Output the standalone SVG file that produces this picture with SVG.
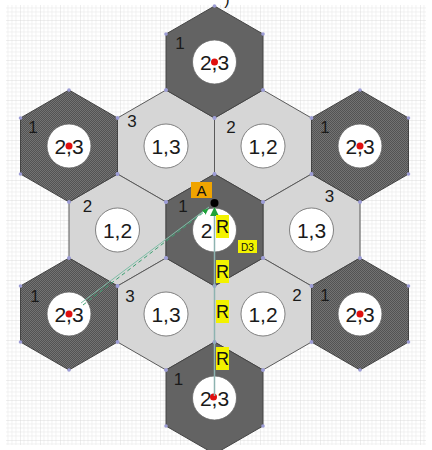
<svg xmlns="http://www.w3.org/2000/svg" width="432" height="450" viewBox="0 0 432 450">
<style>
.num{font-family:"Liberation Sans",Arial,sans-serif;font-size:17px;fill:#1a1a1a;text-anchor:middle}
.ct{font-family:"Liberation Sans",Arial,sans-serif;font-size:21px;fill:#1a1a1a;text-anchor:middle}
.lbl{font-family:"Liberation Sans",Arial,sans-serif;fill:#111;text-anchor:middle}
.dark{fill:url(#hatch);stroke:#444;stroke-width:1}
.light{fill:#d6d6d6;stroke:#5a5a5a;stroke-width:1}
.circ{fill:#fff;stroke:#666;stroke-width:0.8}
.red{fill:#e01010}
.vd{fill:#9d9dd6}
.ybox{fill:#f2f200}
</style>
<defs>
<pattern id="grid" width="20" height="20" patternUnits="userSpaceOnUse">
<rect width="20" height="20" fill="#fff"/>
<path d="M4 0V20M8 0V20M12 0V20M16 0V20M0 4H20M0 8H20M0 12H20M0 16H20" stroke="#ececec" stroke-width="0.7"/>
<path d="M0 0V20M0 0H20" stroke="#d6d6d6" stroke-width="0.8"/>
</pattern>
<pattern id="hatch" width="2" height="2" patternUnits="userSpaceOnUse">
<rect width="2" height="2" fill="#737373"/>
<rect width="1" height="1" fill="#535353"/>
<rect x="1" y="1" width="1" height="1" fill="#535353"/>
</pattern>
<polygon id="hex" points="0,-56 48.5,-28 48.5,28 0,56 -48.5,28 -48.5,-28"/>
<g id="vdots">
<circle cx="0" cy="-56" r="1.8"/><circle cx="48.5" cy="-28" r="1.8"/><circle cx="48.5" cy="28" r="1.8"/>
<circle cx="0" cy="56" r="1.8"/><circle cx="-48.5" cy="28" r="1.8"/><circle cx="-48.5" cy="-28" r="1.8"/>
</g>
<marker id="ga" viewBox="0 0 10 10" refX="9" refY="5" markerWidth="6" markerHeight="6" orient="auto">
<path d="M0,0 L10,5 L0,10 z" fill="#1fa23a"/>
</marker>
</defs>
<rect x="6" y="5" width="420" height="440" fill="url(#grid)"/>
<text class="lbl" x="227" y="5" font-size="16">)</text>

<!-- light hexes -->
<g id="L1" transform="translate(166,146)"><use href="#hex" class="light"/><circle class="circ" r="22"/><text class="ct" y="7.5">1,3</text><text class="num" x="-34" y="-19">3</text></g>
<g id="L2" transform="translate(263,146)"><use href="#hex" class="light"/><circle class="circ" r="22"/><text class="ct" y="7.5">1,2</text><text class="num" x="-32" y="-13">2</text></g>
<g id="L3" transform="translate(117.5,230)"><use href="#hex" class="light"/><circle class="circ" r="22"/><text class="ct" y="7.5">1,2</text><text class="num" x="-30" y="-18">2</text></g>
<g id="L4" transform="translate(311.5,230)"><use href="#hex" class="light"/><circle class="circ" r="22"/><text class="ct" y="7.5">1,3</text><text class="num" x="18" y="-28">3</text></g>
<g id="L5" transform="translate(166,314)"><use href="#hex" class="light"/><circle class="circ" r="22"/><text class="ct" y="7.5">1,3</text><text class="num" x="-36" y="-12">3</text></g>
<g id="L6" transform="translate(263,314)"><use href="#hex" class="light"/><circle class="circ" r="22"/><text class="ct" y="7.5">1,2</text><text class="num" x="34" y="-13">2</text></g>

<!-- dark hexes -->
<g id="D1" transform="translate(214.5,62)"><use href="#hex" class="dark"/><circle class="circ" r="22"/><text class="ct" y="7.5">2,3</text><circle class="red" r="3.5"/><text class="num" x="-34.5" y="-13">1</text></g>
<g id="D2" transform="translate(69,146)"><use href="#hex" class="dark"/><circle class="circ" r="22"/><text class="ct" y="7.5">2,3</text><circle class="red" r="3.5"/><text class="num" x="-36" y="-13">1</text></g>
<g id="D3" transform="translate(360,146)"><use href="#hex" class="dark"/><circle class="circ" r="22"/><text class="ct" y="7.5">2,3</text><circle class="red" r="3.5"/><text class="num" x="-35" y="-13">1</text></g>
<g id="D4" transform="translate(214.5,230)"><use href="#hex" class="dark"/><circle class="circ" r="22"/><text class="ct" x="-8" y="7.5">2</text><text class="num" x="-31.5" y="-18">1</text></g>
<g id="D5" transform="translate(69,314)"><use href="#hex" class="dark"/><circle class="circ" r="22"/><text class="ct" y="7.5">2,3</text><circle class="red" r="3.5"/><text class="num" x="-34" y="-12">1</text></g>
<g id="D6" transform="translate(360,314)"><use href="#hex" class="dark"/><circle class="circ" r="22"/><text class="ct" y="7.5">2,3</text><circle class="red" r="3.5"/><text class="num" x="-35" y="-13">1</text></g>
<g id="D7" transform="translate(214.5,398)"><use href="#hex" class="dark"/><circle class="circ" r="22"/><text class="ct" y="7.5">2,3</text><circle class="red" cx="-1" cy="-1" r="3.5"/><text class="num" x="-36" y="-13">1</text></g>

<!-- vertex dots -->
<g class="vd">
<use href="#vdots" transform="translate(166,146)"/><use href="#vdots" transform="translate(263,146)"/>
<use href="#vdots" transform="translate(117.5,230)"/><use href="#vdots" transform="translate(311.5,230)"/>
<use href="#vdots" transform="translate(166,314)"/><use href="#vdots" transform="translate(263,314)"/>
<use href="#vdots" transform="translate(214.5,62)"/><use href="#vdots" transform="translate(69,146)"/>
<use href="#vdots" transform="translate(360,146)"/><use href="#vdots" transform="translate(214.5,230)"/>
<use href="#vdots" transform="translate(69,314)"/><use href="#vdots" transform="translate(360,314)"/>
<use href="#vdots" transform="translate(214.5,398)"/>
</g>

<!-- connectors -->
<g id="connectors">
<line x1="214.5" y1="396" x2="214.5" y2="208" stroke="#8db3b0" stroke-width="1.5" marker-end="url(#ga)"/>
<line x1="81" y1="303" x2="209" y2="207" stroke="#7fbfa8" stroke-width="1"/>
<line x1="83" y1="305" x2="208" y2="209" stroke="#3aa070" stroke-width="1" stroke-dasharray="4,3" marker-end="url(#ga)"/>
<circle cx="214.5" cy="203" r="4" fill="#000"/>
</g>

<!-- labels -->
<g id="labelA"><rect x="191" y="182" width="21" height="16" fill="#f0a400"/><text class="lbl" x="201.5" y="196" font-size="15">A</text></g>
<g id="labelD3"><rect x="238" y="240" width="19" height="13" class="ybox"/><text class="lbl" x="247.5" y="250.5" font-size="10">D3</text></g>
<g id="labelR1"><rect x="216" y="215" width="13" height="23" class="ybox"/><text class="lbl" x="222.5" y="233" font-size="18">R</text></g>
<g id="labelR2"><rect x="216" y="260" width="13" height="23" class="ybox"/><text class="lbl" x="222.5" y="278" font-size="18">R</text></g>
<g id="labelR3"><rect x="216" y="300" width="13" height="23" class="ybox"/><text class="lbl" x="222.5" y="318" font-size="18">R</text></g>
<g id="labelR4"><rect x="216" y="347" width="13" height="23" class="ybox"/><text class="lbl" x="222.5" y="365" font-size="18">R</text></g>
</svg>
